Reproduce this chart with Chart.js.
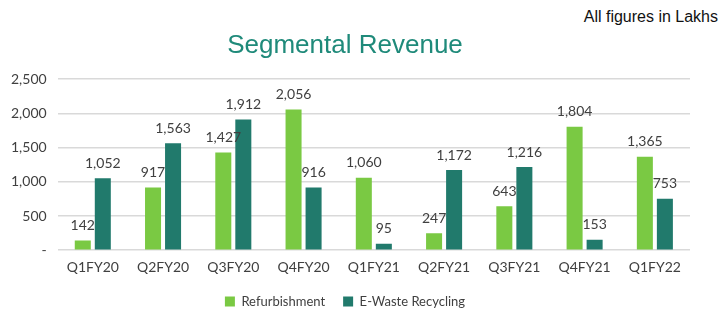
<!DOCTYPE html>
<html>
<head>
<meta charset="utf-8">
<script src="https://cdn.jsdelivr.net/npm/chart.js@4.4.0/dist/chart.umd.min.js"></script>
<style>
  html, body { margin: 0; padding: 0; background: #fff; }
  #wrap { position: relative; width: 726px; height: 331px; }
  #note { position: absolute; right: 8px; top: 8px; font: 16px "Liberation Sans", Arial, sans-serif; color: #111; }
  #chartBox { position: absolute; left: 0; top: 0; width: 704px; height: 331px; }
</style>
</head>
<body>
<div id="wrap">
  <div id="note">All figures in Lakhs</div>
  <div id="chartBox"><canvas id="revChart"></canvas></div>
</div>
<script>
const quarters = ["Q1FY20", "Q2FY20", "Q3FY20", "Q4FY20", "Q1FY21", "Q2FY21", "Q3FY21", "Q4FY21", "Q1FY22"];
const refurbishment = [142, 917, 1427, 2056, 1060, 247, 643, 1804, 1365];
const eWasteRecycling = [1052, 1563, 1912, 916, 95, 1172, 1216, 153, 753];

const labelFont = '"Lato", "Open Sans", sans-serif';

// writes each bar's value just above it
const valueLabels = {
    id: 'valueLabels',
    afterDatasetsDraw(chart) {
        const c = chart.ctx;
        c.save();
        c.font = '14px ' + labelFont;
        c.fillStyle = '#404040';
        c.textAlign = 'center';
        c.textBaseline = 'bottom';
        chart.data.datasets.forEach((ds, i) => {
            chart.getDatasetMeta(i).data.forEach((bar, j) => {
                c.fillText(ds.data[j].toLocaleString('en-US'), bar.x, bar.y - 8);
            });
        });
        c.restore();
    }
};

const ctx = document.getElementById('revChart').getContext('2d');
const chart = new Chart(ctx, {
    type: 'bar',
    data: {
        labels: quarters,
        datasets: [
            { label: 'Refurbishment', data: refurbishment, backgroundColor: '#7ac943' },
            { label: 'E-Waste Recycling', data: eWasteRecycling, backgroundColor: '#217a6c' }
        ]
    },
    options: {
        responsive: true,
        maintainAspectRatio: false,
        animation: false,
        layout: { padding: { left: 0, right: 14, top: 30, bottom: 13 } },
        datasets: { bar: { categoryPercentage: 0.57, barPercentage: 0.8 } },
        plugins: {
            title: {
                display: true,
                text: 'Segmental Revenue',
                color: '#1f8a7a',
                font: { family: '"Liberation Sans", Arial, sans-serif', size: 26, weight: 'normal' },
                padding: { top: 0, bottom: 18 }
            },
            legend: {
                position: 'bottom',
                labels: {
                    boxWidth: 10,
                    boxHeight: 10,
                    color: '#404040',
                    font: { family: labelFont, size: 13 },
                    padding: 18
                }
            },
            tooltip: { enabled: false }
        },
        scales: {
            x: {
                grid: { display: false },
                border: { display: false },
                ticks: { color: '#404040', font: { family: labelFont, size: 14 }, padding: 1 }
            },
            y: {
                min: 0,
                max: 2500,
                ticks: {
                    stepSize: 500,
                    color: '#404040',
                    font: { family: labelFont, size: 14 },
                    padding: 11,
                    callback: v => v === 0 ? '-' : v.toLocaleString('en-US')
                },
                grid: { color: '#d9d9d9', lineWidth: 1.5, drawTicks: false },
                border: { display: false }
            }
        }
    },
    plugins: [valueLabels]
});
</script>
</body>
</html>
